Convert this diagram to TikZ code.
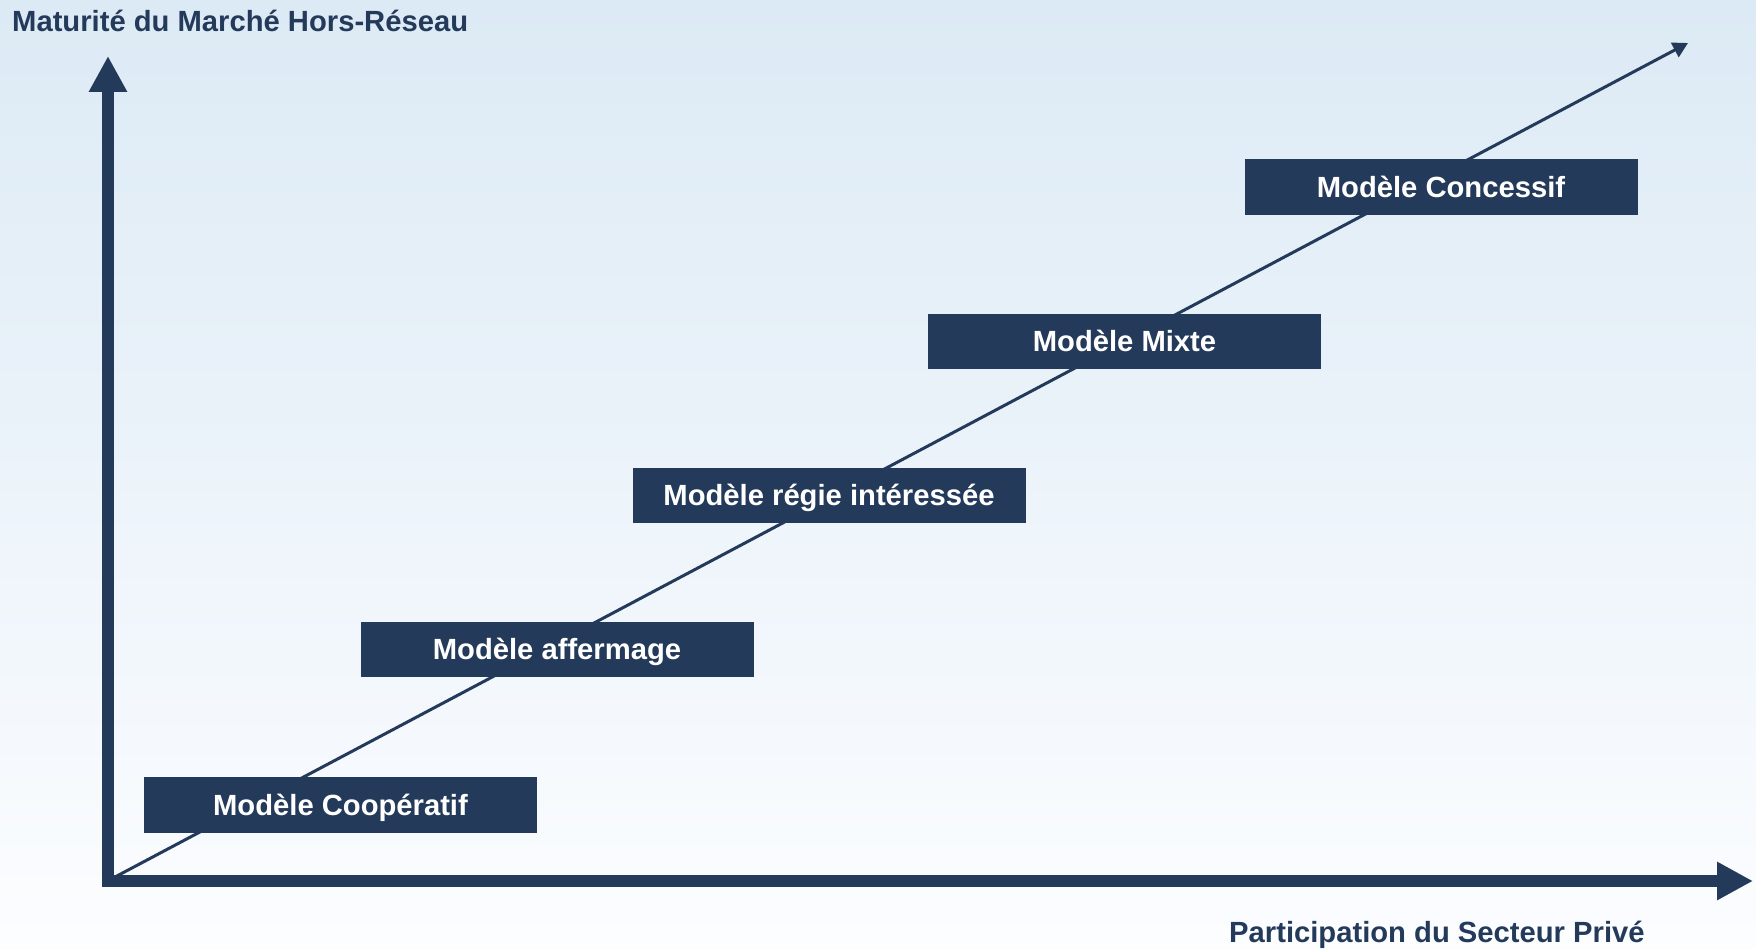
\documentclass[tikz,border=0pt]{standalone}
\usepackage{fontspec}
\setmainfont{Liberation Sans}
\usetikzlibrary{arrows.meta}
\definecolor{navy}{RGB}{36,58,90}
\definecolor{bgtop}{RGB}{220,234,245}
\definecolor{bgbot}{RGB}{252,253,255}
\tikzset{
  modelbox/.style={fill=navy, text=white, inner sep=0pt, minimum width=393pt, minimum height=55.5pt,
    text height=20.8pt, text depth=0pt, font=\fontsize{29.2pt}{34pt}\selectfont\bfseries},
  axislabel/.style={text=navy, inner sep=0pt, font=\fontsize{29.2pt}{34pt}\selectfont\bfseries},
  axisline/.style={draw=navy, line width=12pt, line cap=butt, -{Triangle[length=36pt,width=36pt]}},
  trendline/.style={draw=navy, line width=3pt, -{Triangle[length=15pt,width=16pt]}}
}
\begin{document}
\begin{tikzpicture}[x=1pt,y=-1pt]
\useasboundingbox (0,0) rectangle (1756,949);
\shade[top color=bgtop, bottom color=bgbot] (0,0) rectangle (1756,949);
% coordinates
\coordinate (origin) at (115,877);
\coordinate (trendend) at (1688,43);
\coordinate (ybot) at (108,887);
\coordinate (ytop) at (108,56);
\coordinate (xleft) at (102,881);
\coordinate (xright) at (1753,881);
% axes
\draw[axisline] (ybot) -- (ytop);
\draw[axisline] (xleft) -- (xright);
% trend
\draw[trendline] (origin) -- (trendend);
% boxes
\node[modelbox] (coop) at (340.5,805) {Modèle Coopératif};
\node[modelbox] (aff) at (557,649.5) {Modèle affermage};
\node[modelbox] (regie) at (829,495.5) {Modèle régie intéressée};
\node[modelbox] (mixte) at (1124.5,341.5) {Modèle Mixte};
\node[modelbox] (conc) at (1441,187) {Modèle Concessif};
% labels
\node[axislabel, anchor=base west] (ylab) at (12,32) {Maturité du Marché Hors-Réseau};
\node[axislabel, anchor=base west] (xlab) at (1229,942) {Participation du Secteur Privé};
\end{tikzpicture}
\end{document}
